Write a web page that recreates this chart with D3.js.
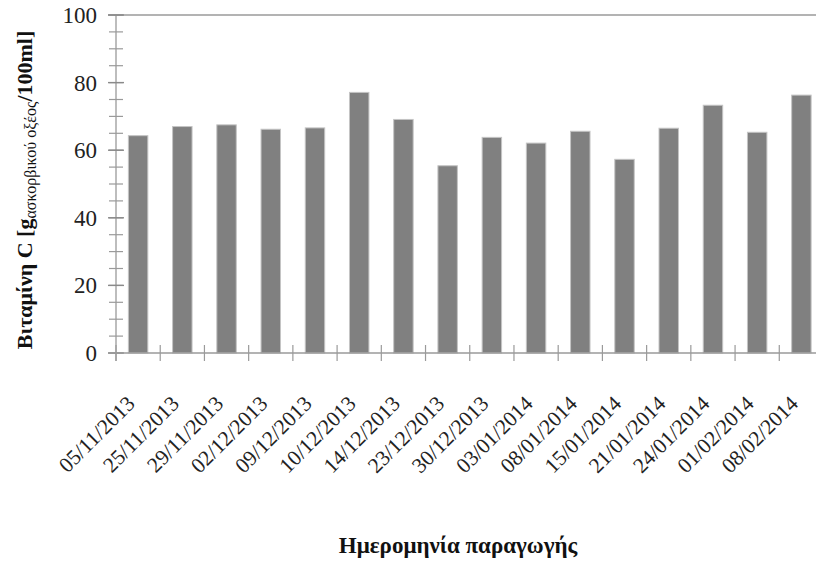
<!DOCTYPE html>
<html>
<head>
<meta charset="utf-8">
<script src="https://cdn.jsdelivr.net/npm/d3@7"></script>
<style>
  html, body { margin: 0; padding: 0; background: #fff; }
  svg { display: block; font-family: "Liberation Serif", "DejaVu Serif", serif; }
</style>
</head>
<body>
<svg id="chart" width="816" height="562"></svg>
<script>
// Production dates and vitamin C content per batch
const dates = [
  "05/11/2013", "25/11/2013", "29/11/2013", "02/12/2013", "09/12/2013",
  "10/12/2013", "14/12/2013", "23/12/2013", "30/12/2013", "03/01/2014",
  "08/01/2014", "15/01/2014", "21/01/2014", "24/01/2014", "01/02/2014",
  "08/02/2014"
];
const vitaminC = [
  64.3, 67.0, 67.5, 66.2, 66.6, 77.1, 69.1, 55.4,
  63.8, 62.1, 65.6, 57.3, 66.5, 73.3, 65.3, 76.3
];
const yMajorTicks = [0, 20, 40, 60, 80, 100];

const svg = d3.select("#chart");

const plotLeft = 116, plotRight = 823.5, plotTop = 15, plotBottom = 353;

// Category slots (ticks sit on slot boundaries) and bars inside them
const xSlot = d3.scaleBand().domain(dates).range([plotLeft, plotRight]).padding(0);
const xBar = d3.scaleBand().domain(dates).range([plotLeft, plotRight])
  .paddingInner(0.56).paddingOuter(0.28);
const y = d3.scaleLinear().domain([0, 100]).range([plotBottom, plotTop]);

const axisColor = "#9a9a9a";

// Bars
svg.append("g").selectAll("rect")
  .data(dates)
  .join("rect")
  .attr("x", d => xBar(d))
  .attr("width", xBar.bandwidth())
  .attr("y", (d, i) => y(vitaminC[i]))
  .attr("height", (d, i) => y(0) - y(vitaminC[i]))
  .attr("fill", "#808080")
  .attr("stroke", "#c4c4c4")
  .attr("stroke-width", 1);

// Top frame line
svg.append("line")
  .attr("x1", plotLeft - 8).attr("x2", 816)
  .attr("y1", y(100)).attr("y2", y(100))
  .attr("stroke", axisColor).attr("stroke-width", 1.3);

// Y axis: line, minor and major crossing ticks, labels
const yAxis = svg.append("g").attr("transform", `translate(${plotLeft},0)`);
yAxis.append("line")
  .attr("x1", 0).attr("x2", 0).attr("y1", y(100)).attr("y2", y(0) + 8)
  .attr("stroke", axisColor).attr("stroke-width", 1.3);
yAxis.selectAll("line.minor")
  .data(d3.range(0, 101, 5))
  .join("line")
  .attr("class", "minor")
  .attr("x1", -7).attr("x2", 7)
  .attr("y1", d => y(d)).attr("y2", d => y(d))
  .attr("stroke", axisColor).attr("stroke-width", 1.2);
yAxis.selectAll("line.major")
  .data(yMajorTicks)
  .join("line")
  .attr("class", "major")
  .attr("x1", -8).attr("x2", 8)
  .attr("y1", d => y(d)).attr("y2", d => y(d))
  .attr("stroke", "#8a8a8a").attr("stroke-width", 1.4);
yAxis.selectAll("text")
  .data(yMajorTicks)
  .join("text")
  .attr("x", -19)
  .attr("y", d => y(d))
  .attr("dy", "0.35em")
  .attr("text-anchor", "end")
  .attr("font-size", 23)
  .attr("fill", "#222")
  .text(d => d);

// X axis: baseline, boundary ticks, rotated date labels
const xAxis = svg.append("g").attr("transform", `translate(0,${plotBottom})`);
xAxis.append("line")
  .attr("x1", plotLeft - 8).attr("x2", 816)
  .attr("y1", 0).attr("y2", 0)
  .attr("stroke", axisColor).attr("stroke-width", 1.3);
xAxis.selectAll("line.tick")
  .data(dates.map(d => xSlot(d)).concat([plotRight]))
  .join("line")
  .attr("class", "tick")
  .attr("x1", d => d).attr("x2", d => d)
  .attr("y1", -8).attr("y2", 8)
  .attr("stroke", axisColor).attr("stroke-width", 1.2);
xAxis.selectAll("text")
  .data(dates)
  .join("text")
  .attr("transform", d =>
    `translate(${xSlot(d) + xSlot.bandwidth() / 2 - 2},${52}) rotate(-45)`)
  .attr("text-anchor", "end")
  .attr("font-size", 21.5)
  .attr("fill", "#222")
  .text(d => d);

// Axis titles
svg.append("text")
  .attr("x", 458).attr("y", 553)
  .attr("text-anchor", "middle")
  .attr("font-size", 23)
  .attr("font-weight", "bold")
  .attr("fill", "#111")
  .text("Ημερομηνία παραγωγής");

const yTitle = svg.append("text")
  .attr("transform", "translate(32,190) rotate(-90)")
  .attr("text-anchor", "middle")
  .attr("font-size", 22)
  .attr("font-weight", "bold")
  .attr("fill", "#111");
yTitle.append("tspan").text("Βιταμίνη C [g");
yTitle.append("tspan")
  .attr("font-size", 16)
  .attr("font-weight", "normal")
  .attr("dy", 4)
  .text("ασκορβικού οξέος");
yTitle.append("tspan")
  .attr("dy", -4)
  .text("/100ml]");
</script>
</body>
</html>
